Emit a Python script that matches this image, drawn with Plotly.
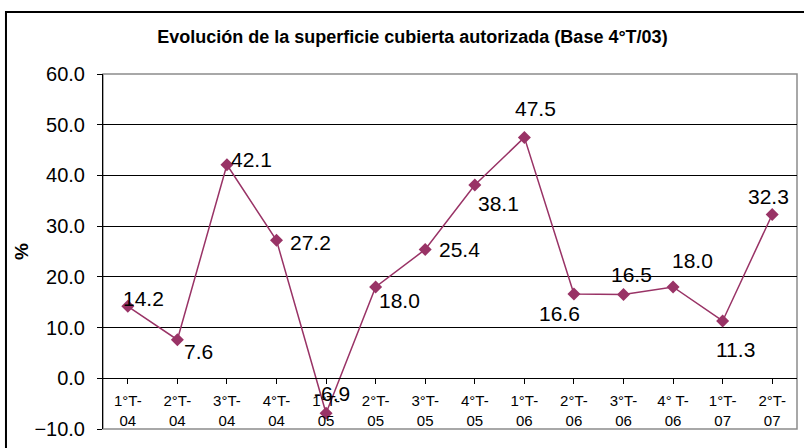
import plotly.graph_objects as go

categories = ["1°T-<br>04", "2°T-<br>04", "3°T-<br>04", "4°T-<br>04",
              "1°T-<br>05", "2°T-<br>05", "3°T-<br>05", "4°T-<br>05",
              "1°T-<br>06", "2°T-<br>06", "3°T-<br>06", "4° T-<br>06",
              "1°T-<br>07", "2°T-<br>07"]
values = [14.2, 7.6, 42.1, 27.2, -6.9, 18.0, 25.4, 38.1, 47.5, 16.6, 16.5, 18.0, 11.3, 32.3]
y_ticks = [-10, 0, 10, 20, 30, 40, 50, 60]

# label offsets in pixels (dx right, dy up) relative to each marker
label_dx = [16, 21, 25, 34, 6, 24, 34, 24, 11, -14, 8, 19, 13, -4]
label_dy = [8, -12, 5, -2, 20, -13, 0, -18, 29, -19, 20, 27, -29, 18]

color = "#993366"
xs = list(range(len(categories)))
fig = go.Figure()
fig.add_trace(go.Scatter(
    x=xs, y=values, mode="lines+markers",
    line=dict(color=color, width=1.5),
    marker=dict(symbol="diamond", size=10, color=color),
    cliponaxis=False, showlegend=False, hoverinfo="skip",
))

for xi, v, dx, dy in zip(xs, values, label_dx, label_dy):
    fig.add_annotation(x=xi, y=v, text=f"{v:.1f}", showarrow=False,
                       xanchor="center", yanchor="middle", xshift=dx, yshift=dy,
                       font=dict(family="Liberation Sans, Arial", size=21, color="black"))

fig.update_layout(
    width=804, height=448,
    margin=dict(l=103, r=7, t=74, b=19, autoexpand=False),
    paper_bgcolor="white", plot_bgcolor="white",
    font=dict(family="Liberation Sans, Arial", color="black"),
    title=dict(text="<b>Evolución de la superficie cubierta autorizada (Base 4°T/03)</b>",
               x=0.513, y=0.917, xref="container", yref="container",
               xanchor="center", yanchor="middle",
               font=dict(size=18, family="Liberation Sans, Arial")),
    xaxis=dict(
        tickmode="array", tickvals=xs, ticktext=categories,
        range=[-0.5, len(categories) - 0.5],
        anchor="free", position=10 / 70, automargin=False,
        showline=True, linecolor="black", linewidth=1,
        ticks="outside", ticklen=5, tickcolor="black", tickson="boundaries",
        ticklabelstandoff=4,
        showgrid=False, zeroline=False,
        tickfont=dict(size=15), tickangle=0,
    ),
    yaxis=dict(
        range=[-10, 60], tickvals=y_ticks, tickformat=".1f", automargin=False,
        showline=True, linecolor="black", linewidth=1,
        ticks="outside", ticklen=5, tickcolor="black", ticklabelstandoff=8,
        showgrid=True, gridcolor="black", gridwidth=1,
        zeroline=False, tickfont=dict(size=20),
        title=dict(text="<b>%</b>", font=dict(size=19), standoff=0),
    ),
    shapes=[
        dict(type="rect", xref="paper", yref="paper", x0=0, x1=1, y0=0, y1=1,
             line=dict(color="#8c8c8c", width=1.5), layer="below"),
        dict(type="rect", xref="paper", yref="paper", x0=-0.1398, x1=1.03,
             y0=-0.09, y1=1.1746, line=dict(color="black", width=2)),
    ],
)

fig.write_html("out.html", config={"displayModeBar": False},
               post_script="document.body.style.margin='0';")
